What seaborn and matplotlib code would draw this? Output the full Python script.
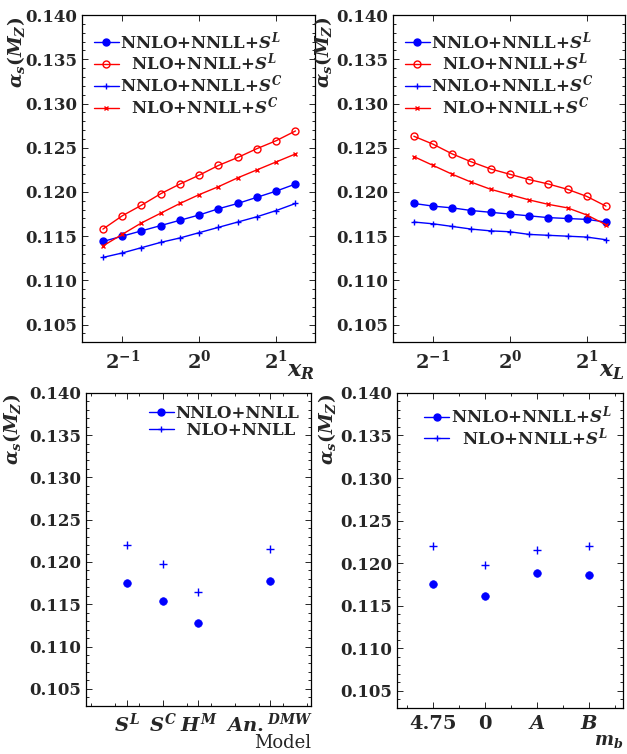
import numpy as np
import pandas as pd
import matplotlib
matplotlib.use('Agg')
import matplotlib.pyplot as plt
import seaborn as sns
from matplotlib.lines import Line2D
from matplotlib.ticker import FixedLocator, MultipleLocator, FixedFormatter

# scale variation x = 2^(k/4)
log2_x = [-1.25, -1.0, -0.75, -0.5, -0.25, 0.0, 0.25, 0.5, 0.75, 1.0, 1.25]

xr_nnlo_sl = [0.1144, 0.1150, 0.1156, 0.1162, 0.1168, 0.1174, 0.1181, 0.1187, 0.1194, 0.1201, 0.1209]
xr_nlo_sl = [0.1158, 0.1173, 0.1185, 0.1198, 0.1209, 0.1219, 0.1230, 0.1239, 0.1249, 0.1258, 0.1269]
xr_nnlo_sc = [0.1126, 0.1131, 0.1137, 0.1143, 0.1148, 0.1154, 0.1160, 0.1166, 0.1172, 0.1179, 0.1187]
xr_nlo_sc = [0.1139, 0.1152, 0.1165, 0.1176, 0.1187, 0.1197, 0.1206, 0.1216, 0.1225, 0.1234, 0.1243]

xl_nnlo_sl = [0.1187, 0.1184, 0.1182, 0.1179, 0.1177, 0.1175, 0.1173, 0.1171, 0.1170, 0.1169, 0.1166]
xl_nlo_sl = [0.1263, 0.1254, 0.1243, 0.1234, 0.1226, 0.1220, 0.1214, 0.1209, 0.1203, 0.1195, 0.1184]
xl_nnlo_sc = [0.1166, 0.1164, 0.1161, 0.1158, 0.1156, 0.1155, 0.1152, 0.1151, 0.1150, 0.1149, 0.1146]
xl_nlo_sc = [0.1240, 0.1230, 0.1220, 0.1211, 0.1203, 0.1197, 0.1191, 0.1186, 0.1182, 0.1174, 0.1163]

model_pos = [1, 2, 3, 5]
model_labels = ['$S^L$', '$S^C$', '$H^M$', '$An.^{DMW}$']
model_nnlo = [0.1175, 0.1154, 0.1128, 0.1178]
model_nlo = [0.1220, 0.1198, 0.1164, 0.1215]

mb_pos = [0, 1, 2, 3]
mb_labels = ['4.75', '0', '$A$', '$B$']
mb_nnlo = [0.1175, 0.1162, 0.1189, 0.1186]
mb_nlo = [0.1220, 0.1198, 0.1216, 0.1220]

sns.set_style('ticks')
plt.rcParams['font.family'] = ['DejaVu Serif']
plt.rcParams['font.weight'] = 'bold'
plt.rcParams['mathtext.fontset'] = 'custom'
plt.rcParams['mathtext.rm'] = 'DejaVu Serif:bold'
plt.rcParams['mathtext.it'] = 'DejaVu Serif:italic:bold'
plt.rcParams['mathtext.bf'] = 'DejaVu Serif:bold'
plt.rcParams['xtick.direction'] = 'in'
plt.rcParams['ytick.direction'] = 'in'

BLUE = '#0000ff'
RED = '#ff0000'
FS = 12
LFS = 12

fig = plt.figure(figsize=(6.27, 7.54), dpi=100)
ax1 = fig.add_axes([0.131, 0.546, 0.371, 0.434])
ax2 = fig.add_axes([0.627, 0.546, 0.370, 0.434])
ax3 = fig.add_axes([0.137, 0.064, 0.359, 0.415])
ax4 = fig.add_axes([0.633, 0.061, 0.361, 0.418])

xs = [2 ** v for v in log2_x]


def style_y(ax, lx):
    ax.set_ylim(0.103, 0.140)
    ax.yaxis.set_major_locator(FixedLocator([0.105, 0.110, 0.115, 0.120, 0.125, 0.130, 0.135, 0.140]))
    ax.yaxis.set_minor_locator(MultipleLocator(0.001))
    ax.set_yticklabels(['0.105', '0.110', '0.115', '0.120', '0.125', '0.130', '0.135', '0.140'])
    ax.tick_params(which='both', top=True, right=True, labelsize=FS, width=0.7)
    ax.tick_params(which='major', length=4)
    ax.tick_params(which='minor', length=2.5)
    ax.set_ylabel(r'$\alpha_s(M_Z)$', fontsize=13.5, loc='top')
    ax.yaxis.set_label_coords(lx, 0.995)
    for s in ax.spines.values():
        s.set_linewidth(0.9)
        s.set_color('black')


def scale_panel(ax, series, xlabel, lx):
    for ys, label, color, marker, ms, mfc in series:
        df = pd.DataFrame({'x': xs, 'y': ys})
        sns.lineplot(data=df, x='x', y='y', ax=ax, color=color, marker=marker,
                     markersize=ms, markerfacecolor=mfc, markeredgecolor=color,
                     markeredgewidth=1.0, linewidth=1.0, label=label)
    ax.set_xscale('log', base=2)
    ax.set_xlim(2 ** -1.52, 2 ** 1.5)
    ax.xaxis.set_major_locator(FixedLocator([0.5, 1, 2]))
    ax.xaxis.set_minor_locator(FixedLocator([]))
    ax.xaxis.set_major_formatter(FixedFormatter(['$2^{-1}$', '$2^{0}$', '$2^{1}$']))
    style_y(ax, lx)
    ax.tick_params(axis='x', which='major', labelsize=14, pad=5)
    ax.set_xlabel(xlabel, fontsize=16, loc='right', labelpad=-9)
    ax.legend(loc='upper left', frameon=False, fontsize=LFS, handlelength=1.5,
              handletextpad=0.1, labelspacing=0.0, borderaxespad=0.3,
              bbox_to_anchor=(0.0, 0.99))


scale_panel(ax1, [
    (xr_nnlo_sl, 'NNLO+NNLL+$S^L$', BLUE, 'o', 5, BLUE),
    (xr_nlo_sl, '  NLO+NNLL+$S^L$', RED, 'o', 5, 'none'),
    (xr_nnlo_sc, 'NNLO+NNLL+$S^C$', BLUE, '+', 5, BLUE),
    (xr_nlo_sc, '  NLO+NNLL+$S^C$', RED, 'x', 3.5, RED),
], '$x_R$', -0.236)

scale_panel(ax2, [
    (xl_nnlo_sl, 'NNLO+NNLL+$S^L$', BLUE, 'o', 5, BLUE),
    (xl_nlo_sl, '  NLO+NNLL+$S^L$', RED, 'o', 5, 'none'),
    (xl_nnlo_sc, 'NNLO+NNLL+$S^C$', BLUE, '+', 5, BLUE),
    (xl_nlo_sc, '  NLO+NNLL+$S^C$', RED, 'x', 3.5, RED),
], '$x_L$', -0.255)


def point_panel(ax, pos, nnlo, nlo, labels, leg, xlabel, xlim, minor, lx):
    sns.scatterplot(x=pos, y=nnlo, ax=ax, color=BLUE, marker='o', s=30,
                    edgecolor=BLUE, linewidth=0.5, label=leg[0])
    sns.scatterplot(x=pos, y=nlo, ax=ax, color=BLUE, marker='+', s=30,
                    linewidth=1.0, label=leg[1])
    ax.set_xlim(*xlim)
    ax.xaxis.set_major_locator(FixedLocator(pos))
    ax.xaxis.set_minor_locator(MultipleLocator(minor))
    ax.set_xticklabels(labels)
    style_y(ax, lx)
    ax.tick_params(axis='x', which='major', labelsize=14, pad=5)
    ax.set_xlabel(xlabel, fontsize=13, loc='right', labelpad=-1)
    handles, lbls = ax.get_legend_handles_labels()
    hs = [Line2D([], [], color=BLUE, marker='o', markersize=5, linewidth=1.0),
          Line2D([], [], color=BLUE, marker='+', markersize=5, linewidth=1.0)]
    ax.legend(hs, lbls, loc='upper right', frameon=False, fontsize=LFS,
              handlelength=1.5, handletextpad=0.1, labelspacing=0.0,
              borderaxespad=0.3)


point_panel(ax3, model_pos, model_nnlo, model_nlo, model_labels,
            ['NNLO+NNLL', '  NLO+NNLL'], 'Model', (-0.15, 6.15), 0.67, -0.28)
point_panel(ax4, mb_pos, mb_nnlo, mb_nlo, mb_labels,
            ['NNLO+NNLL+$S^L$', '  NLO+NNLL+$S^L$'], '$m_b$', (-0.7, 3.66), 0.5, -0.26)

fig.savefig('out.png', dpi=100)
